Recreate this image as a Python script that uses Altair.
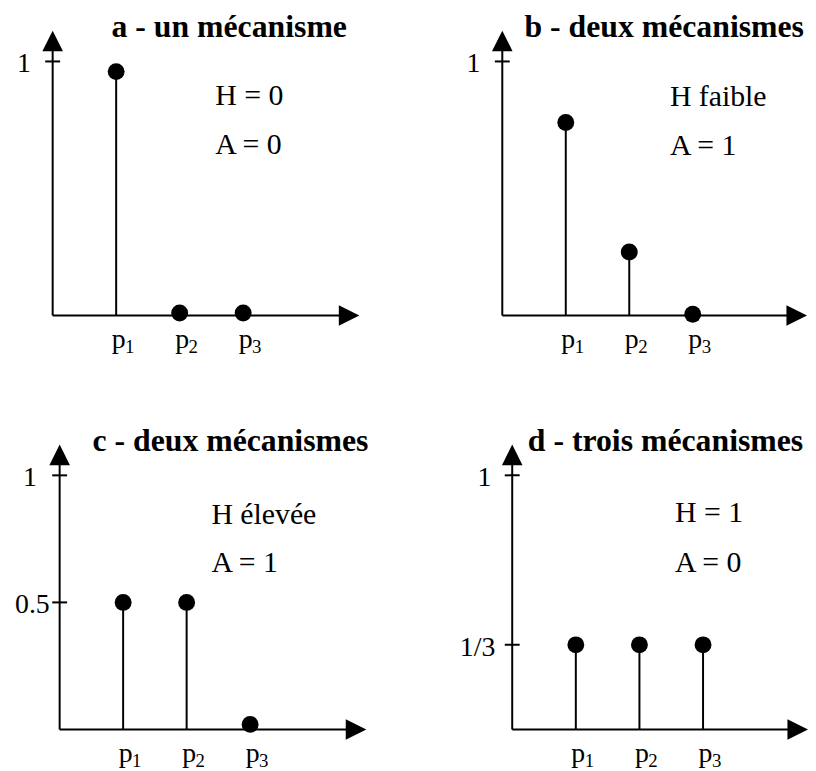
import altair as alt
import pandas as pd

# ---------------- data ----------------
positions = [1, 2, 3]
subscripts = ["1", "2", "3"]
titles = ["a - un mécanisme", "b - deux mécanismes", "c - deux mécanismes", "d - trois mécanismes"]
values_a = [0.96, 0.01, 0.01]
values_b = [0.76, 0.25, 0.005]
values_c = [0.5, 0.5, 0.02]
values_d = [0.333, 0.333, 0.333]
ticks_a = [1.0]
ticks_b = [1.0]
ticks_c = [0.5, 1.0]
ticks_d = [1 / 3, 1.0]
tick_labels_a = ["1"]
tick_labels_b = ["1"]
tick_labels_c = ["0.5", "1"]
tick_labels_d = ["1/3", "1"]
line1 = ["H = 0", "H faible", "H élevée", "H = 1"]
line2 = ["A = 0", "A = 1", "A = 1", "A = 0"]

# ---------------- layout / style ----------------
SERIF = "Liberation Serif"
YMAX = 1.121
PX_PER_X = 64
HEIGHT = 287
# per panel: x-domain start, end ; annotation x, y1, y2 ; title x ; tick label dx
layout = {
    "a": dict(x0=0.0, x1=4.83, ax=2.56, ay1=0.863, ay2=0.672, tx=2.78, tdx=[-22]),
    "b": dict(x0=0.0, x1=4.80, ax=2.64, ay1=0.859, ay2=0.668, tx=2.55, tdx=[-22]),
    "c": dict(x0=-0.11, x1=4.83, ax=2.39, ay1=0.844, ay2=0.656, tx=2.69, tdx=[-10, -23]),
    "d": dict(x0=-0.156, x1=4.65, ax=2.56, ay1=0.852, ay2=0.656, tx=2.41, tdx=[-17, -21]),
}


def panel(key, vals, ticks, tick_labels, title, l1, l2):
    L = layout[key]
    xs = alt.Scale(domain=[L["x0"], L["x1"]], nice=False, zero=False)
    ys = alt.Scale(domain=[0, YMAX], nice=False, zero=False)

    def X(f="x"):
        return alt.X(f"{f}:Q", scale=xs, axis=None)

    def Y(f="y"):
        return alt.Y(f"{f}:Q", scale=ys, axis=None)

    pts = pd.DataFrame({"x": positions, "y": vals, "sub": subscripts})
    layers = []

    # axes lines
    vaxis = pd.DataFrame({"x": [0.0], "y": [0.0], "y2": [YMAX - 0.02]})
    haxis = pd.DataFrame({"x": [0.0], "x2": [L["x1"] - 0.1], "y": [0.0]})
    layers.append(alt.Chart(vaxis).mark_rule(color="black", strokeWidth=2).encode(
        x=X(), y=Y(), y2="y2:Q"))
    layers.append(alt.Chart(haxis).mark_rule(color="black", strokeWidth=2).encode(
        x=X(), x2="x2:Q", y=Y()))
    # arrow heads
    up = pd.DataFrame({"x": [0.0], "y": [YMAX]})
    right = pd.DataFrame({"x": [L["x1"]], "y": [0.0]})
    layers.append(alt.Chart(up).mark_point(shape="M0,0L-1,2L1,2Z", size=430, filled=True,
                                           color="black", opacity=1).encode(x=X(), y=Y()))
    layers.append(alt.Chart(right).mark_point(shape="M0,0L-2,-1L-2,1Z", size=430, filled=True,
                                              color="black", opacity=1).encode(x=X(), y=Y()))
    # ticks on y axis
    tdf = pd.DataFrame({"x": [0.0] * len(ticks), "y": ticks, "label": tick_labels})
    layers.append(alt.Chart(tdf).mark_tick(orient="horizontal", size=15, thickness=2,
                                           color="black", opacity=1).encode(x=X(), y=Y()))
    for i in range(len(ticks)):
        layers.append(alt.Chart(tdf.iloc[[i]]).mark_text(
            font=SERIF, fontSize=28, align="right", baseline="middle", dx=L["tdx"][i], dy=3,
            color="black").encode(x=X(), y=Y(), text="label:N"))

    # stems and dots
    layers.append(alt.Chart(pts).mark_rule(color="black", strokeWidth=2).encode(
        x=X(), y=alt.Y("zero:Q", scale=ys, axis=None), y2="y:Q").transform_calculate(zero="0"))
    layers.append(alt.Chart(pts).mark_point(shape="circle", size=290, filled=True,
                                            color="black", opacity=1).encode(x=X(), y=Y()))
    # x labels p with subscript
    lab = pts.assign(y=0.0, p="p")
    layers.append(alt.Chart(lab).mark_text(font=SERIF, fontSize=28, align="center",
                                           baseline="alphabetic", dx=2.5, dy=33,
                                           color="black").encode(x=X(), y=Y(), text="p:N"))
    layers.append(alt.Chart(lab).mark_text(font=SERIF, fontSize=19, align="left",
                                           baseline="alphabetic", dx=9, dy=38,
                                           color="black").encode(x=X(), y=Y(), text="sub:N"))
    # annotations
    ann = pd.DataFrame({"x": [L["ax"], L["ax"]], "y": [L["ay1"], L["ay2"]], "t": [l1, l2]})
    layers.append(alt.Chart(ann).mark_text(font=SERIF, fontSize=30, align="left",
                                           baseline="middle", color="black").encode(
        x=X(), y=Y(), text="t:N"))
    # title
    tt = pd.DataFrame({"x": [L["tx"]], "y": [YMAX], "t": [title]})
    layers.append(alt.Chart(tt).mark_text(font=SERIF, fontSize=32, fontWeight="bold",
                                          align="center", baseline="alphabetic", dy=6,
                                          color="black").encode(x=X(), y=Y(), text="t:N"))

    width = round((L["x1"] - L["x0"]) * PX_PER_X)
    return alt.layer(*layers).properties(width=width, height=HEIGHT)


pa = panel("a", values_a, ticks_a, tick_labels_a, titles[0], line1[0], line2[0])
pb = panel("b", values_b, ticks_b, tick_labels_b, titles[1], line1[1], line2[1])
pc = panel("c", values_c, ticks_c, tick_labels_c, titles[2], line1[2], line2[2])
pd_ = panel("d", values_d, ticks_d, tick_labels_d, titles[3], line1[3], line2[3])

chart = alt.concat(pa, pb, pc, pd_, columns=2, spacing={"row": 130, "column": 137},
                   bounds="flush").properties(
    padding={"left": 7, "top": 0, "right": 0, "bottom": 0},
    background="white",
).configure_view(stroke=None)

chart.save("out.html", embed_options={"renderer": "svg", "actions": False})
